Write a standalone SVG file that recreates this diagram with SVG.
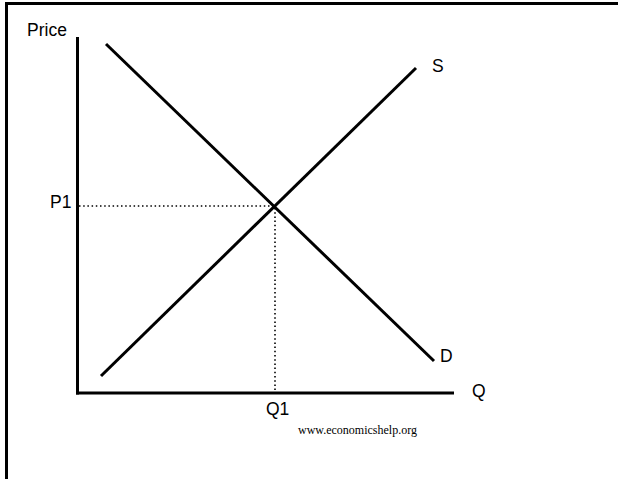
<svg xmlns="http://www.w3.org/2000/svg" width="618" height="479" viewBox="0 0 618 479">
<style>
.lbl{font-family:"Liberation Sans",Arial,sans-serif;font-size:17.5px;fill:#000}
.src{font-family:"Liberation Serif","Times New Roman",serif;font-size:12px;fill:#000}
.ln{stroke:#000;stroke-width:3;fill:none}
.dot{stroke:#000;stroke-width:1.6;stroke-dasharray:1.5 2.7;fill:none}
</style>
<rect x="0" y="0" width="618" height="479" fill="#fff"/>
<g id="frame">
<line class="ln" x1="6.5" y1="3.5" x2="618" y2="3.5"/>
<line class="ln" x1="6.5" y1="2" x2="6.5" y2="479"/>
</g>
<g id="connectors">
<line class="ln" x1="77.5" y1="37" x2="77.5" y2="394.5"/>
<line class="ln" x1="76" y1="393" x2="454" y2="393"/>
<line id="demand" class="ln" x1="106" y1="44" x2="434" y2="361"/>
<line id="supply" class="ln" x1="101" y1="376" x2="416" y2="68"/>
<line class="dot" x1="79" y1="206" x2="273" y2="206"/>
<line class="dot" x1="275" y1="208" x2="275" y2="391"/>
</g>
<g id="labels">
<text class="lbl" x="27" y="36">Price</text>
<text class="lbl" x="50" y="208">P1</text>
<text class="lbl" x="432" y="72">S</text>
<text class="lbl" x="440" y="362">D</text>
<text class="lbl" x="472" y="397">Q</text>
<text class="lbl" x="266" y="415">Q1</text>
<text class="src" x="298" y="434">www.economicshelp.org</text>
</g>
</svg>
